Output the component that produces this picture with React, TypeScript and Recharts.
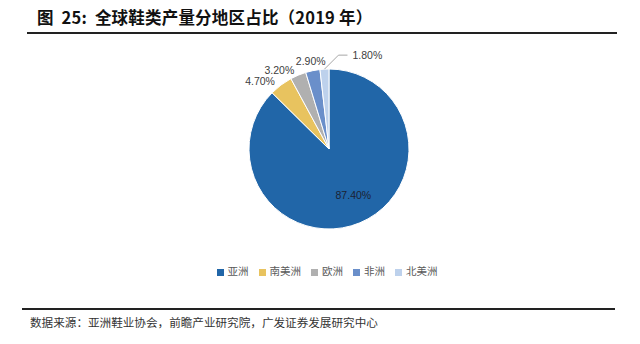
import React from "react";
import { PieChart, Pie, Cell, Legend } from "recharts";

const regions = ["亚洲", "南美洲", "欧洲", "非洲", "北美洲"];
const shares = [87.4, 4.7, 3.2, 2.9, 1.8];
const colors = ["#2166A8", "#E8C35F", "#B0B0B0", "#6A8FCA", "#BDD1EC"];

const data = regions.map((name, i) => ({ name, value: shares[i] }));

const RAD = Math.PI / 180;
const labelFont = "'Liberation Sans', Arial, sans-serif";

function renderLabel(props: any) {
  const { cx, cy, midAngle, outerRadius, index, value } = props;
  const text = value.toFixed(2) + "%";
  const cos = Math.cos(-midAngle * RAD);
  const sin = Math.sin(-midAngle * RAD);
  if (index === 0) {
    const r = outerRadius * 0.66;
    return (
      <text x={cx + r * cos + 4} y={cy + r * sin - 3} fill="#1c2233" fontSize={10.5}
        fontFamily={labelFont} textAnchor="middle" dominantBaseline="central">
        {text}
      </text>
    );
  }
  if (value < 2) {
    // small slice: leader line out to the right
    const x0 = cx + outerRadius * cos;
    const y0 = cy + outerRadius * sin;
    const x1 = x0 + 14;
    const y1 = y0 - 14;
    const x2 = x1 + 9;
    return (
      <g>
        <polyline points={`${x0},${y0} ${x1},${y1} ${x2},${y1}`} fill="none"
          stroke="#A6A6A6" strokeWidth={1} />
        <text x={x2 + 5} y={y1} fill="#404040" fontSize={10.5} fontFamily={labelFont}
          textAnchor="start" dominantBaseline="central">
          {text}
        </text>
      </g>
    );
  }
  const r = outerRadius + 10;
  const left = cos < -0.3;
  return (
    <text x={cx + r * cos} y={cy + r * sin + (left ? 4 : 0)} fill="#404040" fontSize={10.5}
      fontFamily={labelFont} textAnchor={left ? "end" : "middle"}
      dominantBaseline="central">
      {text}
    </text>
  );
}

export default function App() {
  return (
    <div style={{ position: "fixed", left: 0, top: 0, width: 640, height: 344, background: "#fff", overflow: "hidden" }}>
      <div style={{ position: "absolute", left: 37, top: 5, fontFamily: "'Noto Sans CJK SC', sans-serif",
        fontWeight: 700, fontSize: 16.5, color: "#111", whiteSpace: "nowrap", letterSpacing: 0.2 }}>
        图&nbsp; 25:&nbsp; 全球鞋类产量分地区占比（2019 年）
      </div>
      <div style={{ position: "absolute", left: 27, top: 32, width: 590, height: 2, background: "#222" }} />
      <div style={{ position: "absolute", left: 0, top: 0 }}>
        <PieChart width={640} height={300} margin={{ top: 0, right: 0, bottom: 0, left: 0 }}>
          <Pie data={data} dataKey="value" nameKey="name" cx={329} cy={149} outerRadius={80}
            startAngle={90} endAngle={-270} stroke="#fff" strokeWidth={1}
            label={renderLabel} labelLine={false} isAnimationActive={false}>
            {data.map((_d, i) => (
              <Cell key={i} fill={colors[i]} />
            ))}
          </Pie>
          <Legend verticalAlign="bottom" iconType="square" iconSize={7} itemSorter={null}
            wrapperStyle={{ top: 263, bottom: "auto", left: 12, fontSize: 10.5, fontFamily: "'Noto Sans CJK SC', sans-serif" }}
            formatter={(v: any) => <span style={{ color: "#595959", marginRight: 0 }}>{v}</span>} />
        </PieChart>
      </div>
      <div style={{ position: "absolute", left: 22, top: 308, width: 593, height: 2, background: "#222" }} />
      <div style={{ position: "absolute", left: 30, top: 314, fontFamily: "'Noto Sans CJK SC', sans-serif",
        fontSize: 11.6, color: "#333", whiteSpace: "nowrap" }}>
        数据来源：亚洲鞋业协会，前瞻产业研究院，广发证券发展研究中心
      </div>
    </div>
  );
}
